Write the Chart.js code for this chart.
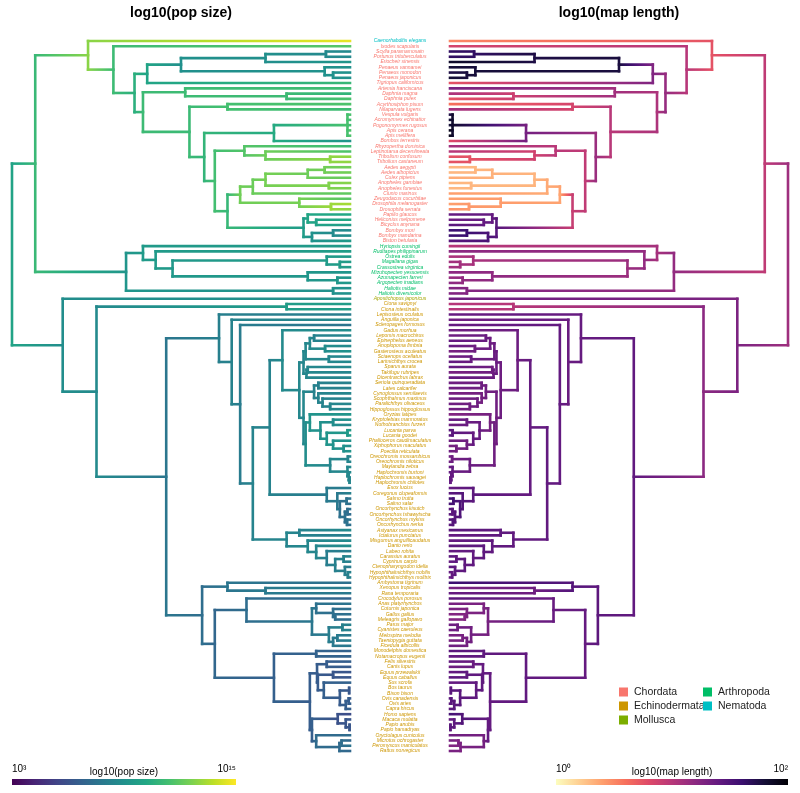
<!DOCTYPE html>
<html>
<head>
<meta charset="utf-8">
<script src="https://cdn.jsdelivr.net/npm/chart.js@4.4.1/dist/chart.umd.min.js"></script>
<style>
  body { margin: 0; background: #fff; }
  #wrap { width: 800px; height: 793px; }
</style>
</head>
<body>
<div id="wrap"><canvas id="myChart"></canvas></div>
<script>
const ctx = document.getElementById("myChart")

// tip labels, top to bottom
const species = [
  'Caenorhabditis elegans', 'Ixodes scapularis', 'Scylla paramamosain', 'Portunus trituberculatus',
  'Eriocheir sinensis', 'Penaeus vannamei', 'Penaeus monodon', 'Penaeus japonicus',
  'Tigriopus californicus', 'Artemia franciscana', 'Daphnia magna', 'Daphnia pulex',
  'Acyrthosiphon pisum', 'Nilaparvata lugens', 'Vespula vulgaris', 'Acromyrmex echinatior',
  'Pogonomyrmex rugosus', 'Apis cerana', 'Apis mellifera', 'Bombus terrestris',
  'Rhyzopertha dominica', 'Leptinotarsa decemlineata', 'Tribolium confusum', 'Tribolium castaneum',
  'Aedes aegypti', 'Aedes albopictus', 'Culex pipiens', 'Anopheles gambiae',
  'Anopheles funestus', 'Clunio marinus', 'Zeugodacus cucurbitae', 'Drosophila melanogaster',
  'Drosophila serrata', 'Papilio glaucus', 'Heliconius melpomene', 'Bicyclus anynana',
  'Bombyx mori', 'Bombyx mandarina', 'Biston betularia', 'Hyriopsis cumingii',
  'Ruditapes philippinarum', 'Ostrea edulis', 'Magallana gigas', 'Crassostrea virginica',
  'Mizuhopecten yessoensis', 'Azumapecten farreri', 'Argopecten irradians', 'Haliotis midae',
  'Haliotis diversicolor', 'Apostichopus japonicus', 'Ciona savignyi', 'Ciona intestinalis',
  'Lepisosteus oculatus', 'Anguilla japonica', 'Scleropages formosus', 'Gadus morhua',
  'Lepomis macrochirus', 'Epinephelus aeneus', 'Anoplopoma fimbria', 'Gasterosteus aculeatus',
  'Sciaenops ocellatus', 'Larimichthys crocea', 'Sparus aurata', 'Takifugu rubripes',
  'Dicentrarchus labrax', 'Seriola quinqueradiata', 'Lates calcarifer', 'Cynoglossus semilaevis',
  'Scophthalmus maximus', 'Paralichthys olivaceus', 'Hippoglossus hippoglossus', 'Oryzias latipes',
  'Kryptolebias marmoratus', 'Nothobranchius furzeri', 'Lucania parva', 'Lucania goodei',
  'Phalloceros caudimaculatus', 'Xiphophorus maculatus', 'Poecilia reticulata', 'Oreochromis mossambicus',
  'Oreochromis niloticus', 'Maylandia zebra', 'Haplochromis burtoni', 'Haplochromis sauvagei',
  'Haplochromis chilotes', 'Esox lucius', 'Coregonus clupeaformis', 'Salmo trutta',
  'Salmo salar', 'Oncorhynchus kisutch', 'Oncorhynchus tshawytscha', 'Oncorhynchus mykiss',
  'Oncorhynchus nerka', 'Astyanax mexicanus', 'Ictalurus punctatus', 'Misgurnus anguillicaudatus',
  'Danio rerio', 'Labeo rohita', 'Carassius auratus', 'Cyprinus carpio',
  'Ctenopharyngodon idella', 'Hypophthalmichthys nobilis', 'Hypophthalmichthys molitrix', 'Ambystoma tigrinum',
  'Xenopus tropicalis', 'Rana temporaria', 'Crocodylus porosus', 'Anas platyrhynchos',
  'Coturnix japonica', 'Gallus gallus', 'Meleagris gallopavo', 'Parus major',
  'Cyanistes caeruleus', 'Melospiza melodia', 'Taeniopygia guttata', 'Ficedula albicollis',
  'Monodelphis domestica', 'Notamacropus eugenii', 'Felis silvestris', 'Canis lupus',
  'Equus przewalskii', 'Equus caballus', 'Sus scrofa', 'Bos taurus',
  'Bison bison', 'Ovis canadensis', 'Ovis aries', 'Capra hircus',
  'Homo sapiens', 'Macaca mulatta', 'Papio anubis', 'Papio hamadryas',
  'Oryctolagus cuniculus', 'Microtus ochrogaster', 'Peromyscus maniculatus', 'Rattus norvegicus'
]

// label colour runs: [first tip, last tip, colour]
const labelRuns = [
  [0, 0, '#00BFC4'],
  [1, 38, '#F8766D'],
  [39, 48, '#00BE67'],
  [49, 49, '#A3A500'],
  [50, 135, '#CD9600']
]

// log10 population size at the tips
const popSize = [
  14.6, 11.8, 8.6, 8.6, 9.2, 9.0, 9.0, 9.0, 11.0, 11.2,
  10.8, 11.5, 11.6, 11.2, 11.5, 11.3, 11.3, 11.6, 11.6, 9.2,
  11.2, 11.6, 13.0, 13.0, 12.4, 12.4, 12.2, 12.8, 12.6, 12.0,
  11.8, 13.4, 13.0, 10.2, 10.2, 9.6, 8.6, 8.8, 9.4, 9.4,
  9.6, 9.4, 9.6, 9.6, 9.2, 9.2, 9.4, 9.0, 9.0, 9.0,
  9.6, 9.6, 8.0, 8.6, 7.6, 8.8, 8.4, 8.2, 8.6, 9.0,
  8.4, 8.6, 8.6, 8.4, 8.4, 8.2, 8.2, 8.4, 8.2, 8.4,
  8.4, 9.2, 9.0, 8.6, 9.4, 9.4, 9.0, 8.8, 9.2, 8.4,
  8.4, 8.6, 8.6, 8.4, 8.4, 8.0, 8.2, 7.6, 7.4, 7.4,
  7.2, 7.6, 7.4, 8.6, 8.0, 8.6, 8.8, 8.0, 8.4, 8.2,
  8.0, 8.2, 8.2, 7.4, 8.0, 7.8, 6.8, 7.6, 7.4, 7.4,
  7.2, 8.2, 8.2, 7.8, 8.0, 7.8, 6.8, 6.8, 6.6, 6.4,
  6.2, 6.2, 6.8, 6.4, 6.2, 6.4, 6.6, 6.6, 5.8, 6.2,
  6.2, 6.2, 7.2, 7.0, 7.6, 7.0
]

// log10 genetic map length at the tips
const mapLength = [
  0.50, 0.85, 1.65, 1.65, 1.85, 1.80, 1.75, 1.80, 0.75, 1.30,
  1.05, 0.75, 0.60, 1.10, 1.75, 1.80, 1.80, 1.90, 1.90, 0.80,
  1.10, 1.00, 0.75, 0.75, 0.30, 0.30, 0.35, 0.30, 0.30, 0.40,
  0.40, 0.40, 0.45, 1.40, 1.35, 1.45, 1.60, 1.60, 1.45, 1.00,
  1.20, 1.05, 1.10, 1.10, 1.20, 1.15, 1.20, 1.25, 1.25, 1.35,
  1.00, 1.00, 1.40, 1.35, 1.40, 1.35, 1.35, 1.40, 1.40, 1.30,
  1.35, 1.40, 1.40, 1.30, 1.40, 1.35, 1.35, 1.30, 1.35, 1.35,
  1.35, 1.25, 1.40, 1.35, 1.45, 1.45, 1.35, 1.30, 1.35, 1.35,
  1.35, 1.40, 1.40, 1.40, 1.40, 1.40, 1.45, 1.55, 1.55, 1.45,
  1.45, 1.50, 1.45, 1.45, 1.40, 1.40, 1.45, 1.40, 1.45, 1.40,
  1.45, 1.40, 1.40, 1.60, 1.30, 1.40, 1.45, 1.30, 1.30, 1.25,
  1.25, 1.35, 1.35, 1.30, 1.30, 1.35, 1.45, 1.40, 1.40, 1.35,
  1.40, 1.45, 1.40, 1.45, 1.45, 1.45, 1.45, 1.45, 1.55, 1.40,
  1.45, 1.45, 1.35, 1.30, 1.25, 1.30
]

// clades as [first tip, last tip, age in Mya]
const clades = [
  [0, 135, 800], [0, 48, 745], [0, 38, 620], [1, 38, 560], [2, 38, 510],
  [2, 8, 480], [2, 7, 400], [2, 4, 200], [2, 3, 57], [5, 7, 60], [6, 7, 40],
  [9, 38, 490], [9, 11, 390], [10, 11, 150], [12, 38, 380], [12, 13, 290],
  [14, 38, 345], [14, 19, 180], [14, 18, 6],
  [20, 38, 320], [20, 23, 250], [21, 23, 200], [22, 23, 47],
  [24, 38, 290], [24, 32, 260], [24, 29, 230], [24, 28, 200], [24, 26, 100], [24, 25, 60],
  [27, 28, 50], [30, 32, 120], [31, 32, 45],
  [33, 38, 110], [33, 35, 100], [34, 35, 80], [36, 38, 90], [36, 37, 40],
  [39, 48, 530], [39, 46, 490], [40, 46, 460], [41, 46, 420], [41, 43, 55], [42, 43, 24],
  [44, 46, 100], [45, 46, 30], [47, 48, 40],
  [49, 135, 680], [50, 135, 600], [50, 51, 150], [52, 135, 435],
  [52, 102, 310], [53, 102, 280], [54, 102, 260], [55, 102, 230], [55, 92, 190],
  [55, 84, 160], [56, 84, 120], [56, 64, 110], [56, 61, 105], [56, 59, 95],
  [56, 57, 85], [58, 59, 59], [60, 61, 50], [62, 64, 103], [62, 63, 100],
  [65, 84, 110], [65, 70, 85], [65, 66, 75], [67, 70, 75], [68, 70, 65], [69, 70, 47],
  [71, 84, 105], [71, 78, 95], [72, 78, 70], [72, 73, 40], [74, 78, 55], [74, 75, 6],
  [76, 78, 40], [77, 78, 15], [79, 84, 47], [79, 80, 5], [81, 84, 6], [82, 84, 3], [83, 84, 1],
  [85, 92, 55], [86, 92, 30], [87, 92, 24], [87, 88, 8], [89, 92, 12], [89, 90, 6], [91, 92, 7],
  [93, 102, 150], [93, 94, 120], [95, 102, 100], [96, 102, 80], [97, 102, 55], [98, 102, 35],
  [98, 99, 15], [100, 102, 12], [101, 102, 5],
  [103, 135, 350], [103, 105, 290], [104, 105, 200], [106, 135, 320], [106, 115, 245],
  [107, 115, 90], [107, 110, 80], [108, 110, 40], [109, 110, 35], [111, 115, 50], [111, 112, 18],
  [113, 115, 40], [113, 114, 30],
  [116, 135, 180], [116, 117, 80], [118, 135, 95], [118, 127, 78], [118, 119, 55], [120, 127, 76],
  [120, 121, 40], [122, 127, 62], [123, 127, 24], [123, 124, 2], [125, 127, 10], [125, 126, 3],
  [128, 135, 90], [128, 131, 29], [129, 131, 10], [130, 131, 1], [132, 135, 80], [133, 135, 25],
  [133, 134, 20]
]

const panelTitles = ['log10(pop size)', 'log10(map length)']
const popTicks = ['10\u00b3', '10\u00b9\u2075']
const mapTicks = ['10\u2070', '10\u00b2']
const popRange = [3, 15]
const mapRange = [0, 2]

const legendNames = ['Chordata', 'Echinodermata', 'Mollusca', 'Arthropoda', 'Nematoda']
const legendColours = ['#F8766D', '#CD9600', '#7CAE00', '#00BE67', '#00BFC4']

const viridis = ['#440154','#482475','#414487','#355f8d','#2a788e','#21918c','#22a884','#44bf70','#7ad151','#bddf26','#fde725']
const magmaRev = ['#fcfdbf','#fecf92','#fe9f6d','#f7705c','#de4968','#b73779','#8c2981','#641a80','#3b0f70','#140e36','#000004']

function hex(h) { return [1, 3, 5].map(i => parseInt(h.slice(i, i + 2), 16)) }
function ramp(stops, t) {
  t = Math.max(0, Math.min(1, t))
  const f = t * (stops.length - 1), i = Math.min(Math.floor(f), stops.length - 2), r = f - i
  const a = hex(stops[i]), b = hex(stops[i + 1])
  return 'rgb(' + a.map((v, k) => Math.round(v + (b[k] - v) * r)).join(',') + ')'
}
const popColour = v => ramp(viridis, (v - popRange[0]) / (popRange[1] - popRange[0]))
const mapColour = v => ramp(magmaRev, (v - mapRange[0]) / (mapRange[1] - mapRange[0]))

// build the tree from the nested tip ranges
function buildTree() {
  const nodes = clades.map(c => ({ from: c[0], to: c[1], age: c[2], kids: [] }))
    .sort((a, b) => (a.to - a.from) - (b.to - b.from))
  const leaves = species.map((s, i) => ({ from: i, to: i, age: 0, leaf: i }))
  const smallestAround = (lo, hi, self) =>
    nodes.find(n => n !== self && n.from <= lo && n.to >= hi && (n.to - n.from) > (hi - lo))
  leaves.forEach(l => smallestAround(l.from, l.to, null).kids.push(l))
  let root = null
  nodes.forEach(n => {
    const p = smallestAround(n.from, n.to, n)
    if (p) p.kids.push(n); else root = n
  })
  nodes.forEach(n => n.kids.sort((a, b) => a.from - b.from))
  return root
}
const tree = buildTree()
const rootAge = tree.age

function annotate(n) {
  if (n.kids) {
    n.kids.forEach(annotate)
    n.y = (n.kids[0].y + n.kids[n.kids.length - 1].y) / 2
    n.pop = n.kids.reduce((s, k) => s + k.pop, 0) / n.kids.length
    n.map = n.kids.reduce((s, k) => s + k.map, 0) / n.kids.length
  } else {
    n.y = n.leaf
    n.pop = popSize[n.leaf]
    n.map = mapLength[n.leaf]
  }
}
annotate(tree)

// gap between the two sets of tips, in age units
const gap = 236.7
const xLeft = age => -age
const xRight = age => gap + age

function branches(key, toX) {
  const pts = [], vals = []
  const brk = () => { pts.push({ x: NaN, y: NaN }); vals.push([0, 0]) }
  function walk(n) {
    if (!n.kids) return
    pts.push({ x: toX(n.age), y: n.kids[0].y }); vals.push([n[key], n[key]])
    pts.push({ x: toX(n.age), y: n.kids[n.kids.length - 1].y }); vals.push([n[key], n[key]])
    brk()
    n.kids.forEach(k => {
      pts.push({ x: toX(n.age), y: k.y }); vals.push([n[key], k[key]])
      pts.push({ x: toX(k.age), y: k.y }); vals.push([n[key], k[key]])
      brk()
      walk(k)
    })
  }
  walk(tree)
  return { pts, vals }
}

function treeDataset(key, toX, colour) {
  const b = branches(key, toX)
  return {
    data: b.pts,
    borderWidth: 2.6,
    borderCapStyle: 'square',
    pointRadius: 0,
    fill: false,
    clip: false,
    spanGaps: false,
    segment: {
      borderColor: c => {
        const [v0, v1] = b.vals[c.p0DataIndex]
        if (v0 === v1) return colour(v0)
        const g = c.chart.ctx.createLinearGradient(c.p0.x, c.p0.y, c.p1.x, c.p1.y)
        for (let s = 0; s <= 4; s++) g.addColorStop(s / 4, colour(v0 + (v1 - v0) * s / 4))
        return g
      }
    }
  }
}

const font = '"Liberation Sans", Arial, sans-serif'

const decorations = {
  id: 'decorations',
  afterDatasetsDraw(chart) {
    const c = chart.ctx, xs = chart.scales.x, ys = chart.scales.y
    c.save()
    // tip labels
    const cx = xs.getPixelForValue(gap / 2)
    c.textAlign = 'center'
    c.textBaseline = 'middle'
    c.font = 'italic 5px ' + font
    species.forEach((s, i) => {
      const run = labelRuns.find(r => i >= r[0] && i <= r[1])
      c.fillStyle = run[2]
      c.fillText(s, cx, ys.getPixelForValue(i))
    })
    // panel titles
    c.fillStyle = '#000'
    c.font = 'bold 14px ' + font
    c.textBaseline = 'alphabetic'
    c.fillText(panelTitles[0], (xs.getPixelForValue(-rootAge) + xs.getPixelForValue(0)) / 2, 17)
    c.fillText(panelTitles[1], (xs.getPixelForValue(gap) + xs.getPixelForValue(gap + rootAge)) / 2, 17)
    // colour bars
    function bar(x0, x1, stops, ticks, title) {
      const g = c.createLinearGradient(x0, 0, x1, 0)
      stops.forEach((s, i) => g.addColorStop(i / (stops.length - 1), s))
      c.fillStyle = g
      c.fillRect(x0, 779, x1 - x0, 6)
      c.fillStyle = '#000'
      c.font = '10px ' + font
      c.textAlign = 'left'
      c.fillText(ticks[0], x0, 772)
      c.textAlign = 'right'
      c.fillText(ticks[1], x1, 772)
      c.textAlign = 'center'
      c.fillText(title, (x0 + x1) / 2, 775)
    }
    bar(12, 236, viridis, popTicks, panelTitles[0])
    bar(556, 788, magmaRev, mapTicks, panelTitles[1])
    // phylum legend
    c.font = '10.5px ' + font
    c.textAlign = 'left'
    c.textBaseline = 'middle'
    legendNames.forEach((name, i) => {
      const col = i < 3 ? 0 : 1, row = i < 3 ? i : i - 3
      const x = 619 + col * 84, y = 692 + row * 14
      c.fillStyle = legendColours[i]
      c.fillRect(x, y - 4.5, 9, 9)
      c.fillStyle = '#222'
      c.fillText(name, x + 15, y)
    })
    c.restore()
  }
}

const config = {
  type: 'line',
  data: {
    datasets: [
      treeDataset('pop', xLeft, popColour),
      treeDataset('map', xRight, mapColour)
    ]
  },
  options: {
    responsive: true,
    maintainAspectRatio: false,
    animation: false,
    layout: { padding: { left: 12, right: 12, top: 41, bottom: 42 } },
    plugins: { legend: { display: false }, tooltip: { enabled: false } },
    scales: {
      x: { type: 'linear', min: -rootAge, max: gap + rootAge, display: false },
      y: { type: 'linear', min: 0, max: species.length - 1, reverse: true, display: false }
    }
  },
  plugins: [decorations]
}

const myChart = new Chart(ctx, config)
</script>
</body>
</html>
